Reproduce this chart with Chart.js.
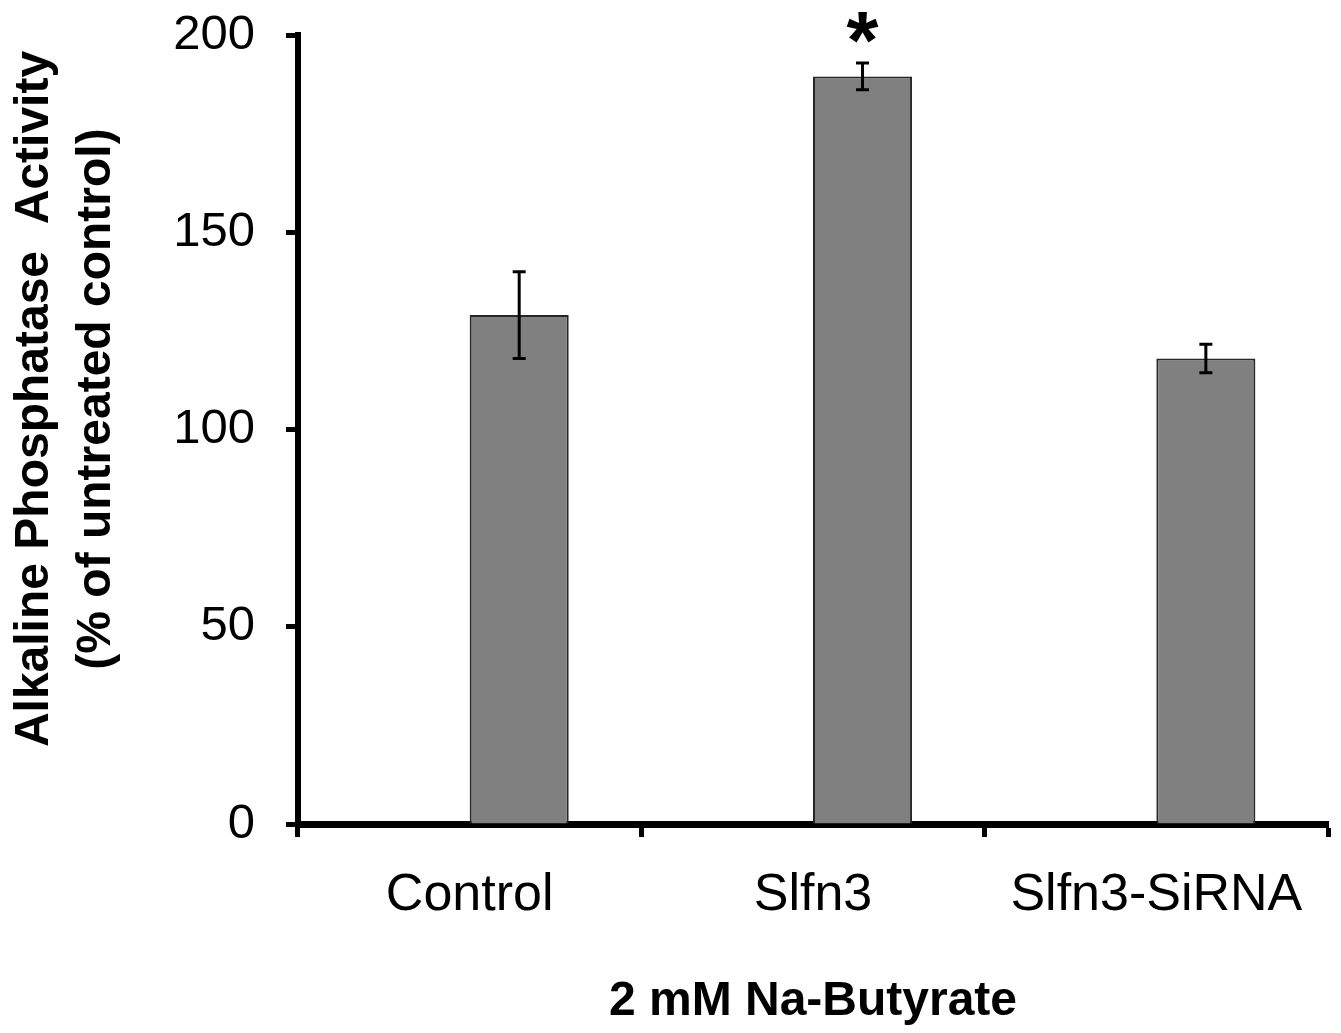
<!DOCTYPE html>
<html>
<head>
<meta charset="utf-8">
<script src="https://cdn.jsdelivr.net/npm/chart.js@4/dist/chart.umd.min.js"></script>
<style>
  html, body { margin: 0; padding: 0; background: #ffffff; }
  #wrap { width: 1341px; height: 1033px; position: relative; }
</style>
</head>
<body>
<div id="wrap"><canvas id="c" width="1341" height="1033"></canvas></div>
<script>
// ---- data ----
const categories = ["Control", "Slfn3", "Slfn3-SiRNA"];
const activity = [129, 189.5, 118];
const activityErr = [11, 3.4, 3.6];
const placeholder = [null, null, null];
const significant = [false, true, false];
const yTicks = [0, 50, 100, 150, 200];
const yTitleLines = ["Alkaline Phosphatase  Activity", "(% of untreated control)"];
const xTitle = "2 mM Na-Butyrate";

const FONT = "'Liberation Sans', Arial, Helvetica, sans-serif";

const errorBarPlugin = {
  id: 'errorBars',
  afterDatasetsDraw(chart) {
    const ctx = chart.ctx;
    const meta = chart.getDatasetMeta(1);
    const y = chart.scales.y;
    ctx.save();
    ctx.strokeStyle = '#000';
    ctx.lineWidth = 3;
    meta.data.forEach((bar, i) => {
      const v = activity[i], e = activityErr[i];
      const x = bar.x;
      const yt = y.getPixelForValue(v + e);
      const yb = y.getPixelForValue(v - e);
      ctx.beginPath();
      ctx.moveTo(x, yt); ctx.lineTo(x, yb);
      ctx.moveTo(x - 6.5, yt); ctx.lineTo(x + 6.5, yt);
      ctx.moveTo(x - 6.5, yb); ctx.lineTo(x + 6.5, yb);
      ctx.stroke();
      if (significant[i]) {
        ctx.fillStyle = '#000';
        ctx.font = 'bold 82px ' + FONT;
        ctx.textAlign = 'center';
        ctx.textBaseline = 'alphabetic';
        const m = ctx.measureText('*');
        const cy = yt - 36;
        ctx.fillText('*', x, cy + m.actualBoundingBoxAscent - (m.actualBoundingBoxAscent + m.actualBoundingBoxDescent) / 2);
      }
    });
    ctx.restore();
  }
};

const yTitlePlugin = {
  id: 'yTitle',
  afterDraw(chart) {
    const ctx = chart.ctx;
    ctx.save();
    ctx.fillStyle = '#000';
    ctx.font = 'bold 48px ' + FONT;
    ctx.textAlign = 'center';
    ctx.textBaseline = 'alphabetic';
    const baselines = [48, 110];
    const cy = 399;
    yTitleLines.forEach((t, i) => {
      ctx.save();
      ctx.translate(baselines[i], cy);
      ctx.rotate(-Math.PI / 2);
      ctx.fillText(t, 0, 0);
      ctx.restore();
    });
    ctx.restore();
  }
};

new Chart(document.getElementById('c'), {
  type: 'bar',
  data: {
    labels: categories,
    datasets: [
      { label: 'spacer', data: placeholder, backgroundColor: 'rgba(0,0,0,0)' },
      {
        label: 'Activity',
        data: activity,
        backgroundColor: '#808080',
        borderColor: '#262626',
        borderWidth: 2,
        borderSkipped: 'bottom'
      }
    ]
  },
  options: {
    responsive: false,
    animation: false,
    events: [],
    layout: { padding: { top: 35, right: 13, left: 0, bottom: 0 } },
    plugins: { legend: { display: false }, tooltip: { enabled: false } },
    datasets: { bar: { categoryPercentage: 0.577, barPercentage: 1.0 } },
    scales: {
      x: {
        offset: true,
        afterFit(scale) { scale.height = 209; scale.paddingLeft = 0; scale.paddingRight = 0; },
        grid: { display: true, drawOnChartArea: false, drawTicks: true, tickLength: 13, tickWidth: 5, tickColor: '#000', offset: true },
        border: { display: true, color: '#000', width: 7 },
        ticks: { color: '#000', font: { family: FONT, size: 52 }, padding: 27 },
        title: { display: true, text: xTitle, color: '#000', font: { family: FONT, size: 48, weight: 'bold' }, padding: { top: 0, bottom: 2 } }
      },
      y: {
        min: 0, max: 200,
        afterFit(scale) { scale.width = 298; scale.paddingTop = 0; scale.paddingBottom = 0; },
        afterBuildTicks(scale) { scale.ticks = yTicks.map(v => ({ value: v })); },
        grid: { display: true, drawOnChartArea: false, drawTicks: true, tickLength: 12, tickWidth: 5, tickColor: '#000' },
        border: { display: true, color: '#000', width: 6 },
        ticks: { color: '#000', font: { family: FONT, size: 49 }, padding: 31 }
      }
    }
  },
  plugins: [errorBarPlugin, yTitlePlugin]
});
</script>
</body>
</html>
